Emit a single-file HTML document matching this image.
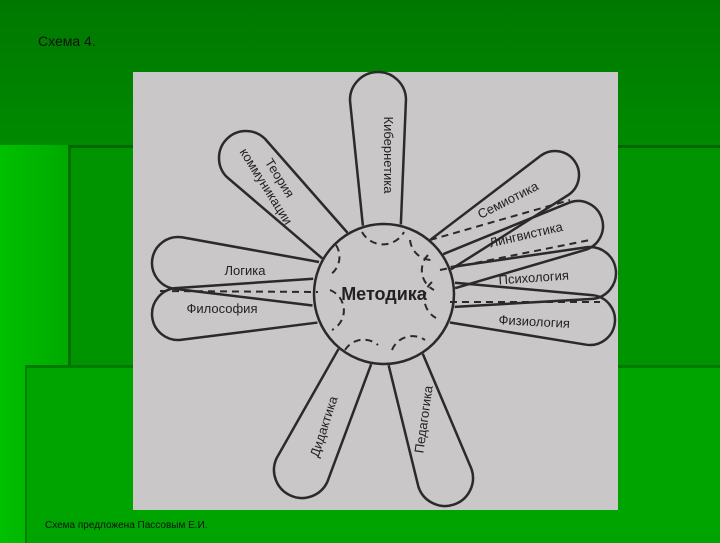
<!DOCTYPE html>
<html><head><meta charset="utf-8"><style>
html,body{margin:0;padding:0}
body{width:720px;height:540px;overflow:hidden;position:relative;
background:linear-gradient(90deg,#00c000 0%,#00a800 10%,#009000 40%,#008800 100%);font-family:"Liberation Sans",sans-serif}
.top{position:absolute;left:0;top:0;width:720px;height:145px;background:linear-gradient(180deg,#007800,#008a00)}
.mid{position:absolute;left:68px;top:145px;width:652px;height:220px;background:#009400;border-top:3px solid #006800;border-left:3px solid #007000}
.low{position:absolute;left:25px;top:365px;width:695px;height:175px;background:#00a400;border-top:3px solid #007a00;border-left:2px solid #008000}
.t1{position:absolute;left:38px;top:33px;font-size:14px;color:#111}
.t2{position:absolute;left:45px;top:520px;font-size:10px;color:#111}
svg{position:absolute;left:0;top:0}
</style></head><body>
<div class="top"></div><div class="mid"></div><div class="low"></div>
<div class="t1">Схема 4.</div>
<div class="t2">Схема предложена Пассовым Е.И.</div>
<svg width="720" height="540" viewBox="0 0 720 540">
<rect x="133" y="72" width="485" height="438" fill="#c9c7c8"/>
<g id="petals" fill="none" stroke="#2a2a2a" stroke-width="2.5"></g>
<circle cx="384" cy="294" r="70" fill="none" stroke="#2a2a2a" stroke-width="2.5"/>
<g fill="none" stroke="#2a2a2a" stroke-width="2" stroke-dasharray="7,5">
<path d="M362 232 A24 24 0 0 0 404 232"/>
<path d="M336 245 A22 22 0 0 1 330 275"/>
<path d="M410 240 A22 22 0 0 0 432 260"/>
<path d="M428 255 A22 22 0 0 0 434 290"/>
<path d="M432 282 A22 22 0 0 0 436 318"/>
<path d="M330 290 A22 22 0 0 1 332 330"/>
<path d="M345 350 A22 22 0 0 1 378 345"/>
<path d="M392 350 A22 22 0 0 1 425 340"/>
<path d="M430 240 L570 200"/><path d="M440 270 L590 240"/><path d="M450 302 L600 302"/><path d="M160 291 L318 292"/>
</g>
<g font-size="13" fill="#222" text-anchor="middle">
<text x="384" y="300" font-size="18" font-weight="bold">Методика</text>
<text transform="translate(384,155) rotate(90)">Кибернетика</text>
<text transform="translate(270,184) rotate(58)"><tspan x="0" y="-7">Теория</tspan><tspan x="0" y="9">коммуникации</tspan></text>
<text transform="translate(510,204) rotate(-27)">Семиотика</text>
<text transform="translate(527,239) rotate(-13)">Лингвистика</text>
<text transform="translate(534,282) rotate(-4)">Психология</text>
<text transform="translate(534,326) rotate(3)">Физиология</text>
<text x="245" y="275">Логика</text>
<text x="222" y="313">Философия</text>
<text transform="translate(328,428) rotate(-72)">Дидактика</text>
<text transform="translate(428,420) rotate(-82)">Педагогика</text>
</g>
</svg>
<script>
var P=[[378,100,28,19],[246,158,27,18],[555,175,24,18],[578,226,25,18],[590,273,26,20],[590,320,25,20],[178,263,26,22],[178,314,26,22],[302,470,28,18],[445,478,28,18]];
var g=document.getElementById('petals'),cx=384,cy=294,R=69,s='';
P.forEach(function(p){var dx=p[0]-cx,dy=p[1]-cy,L=Math.hypot(dx,dy),ux=dx/L,uy=dy/L,nx=-uy,ny=ux;
var bx=cx+ux*R,by=cy+uy*R,rt=p[2],rb=p[3];
var a=[bx+nx*rb,by+ny*rb],b=[p[0]+nx*rt,p[1]+ny*rt],c=[p[0]-nx*rt,p[1]-ny*rt],d=[bx-nx*rb,by-ny*rb];
s+='<path d="M'+a+' L'+b+' A'+rt+' '+rt+' 0 0 0 '+c+' L'+d+'"/>';});
g.innerHTML=s;
</script>
</body></html>
